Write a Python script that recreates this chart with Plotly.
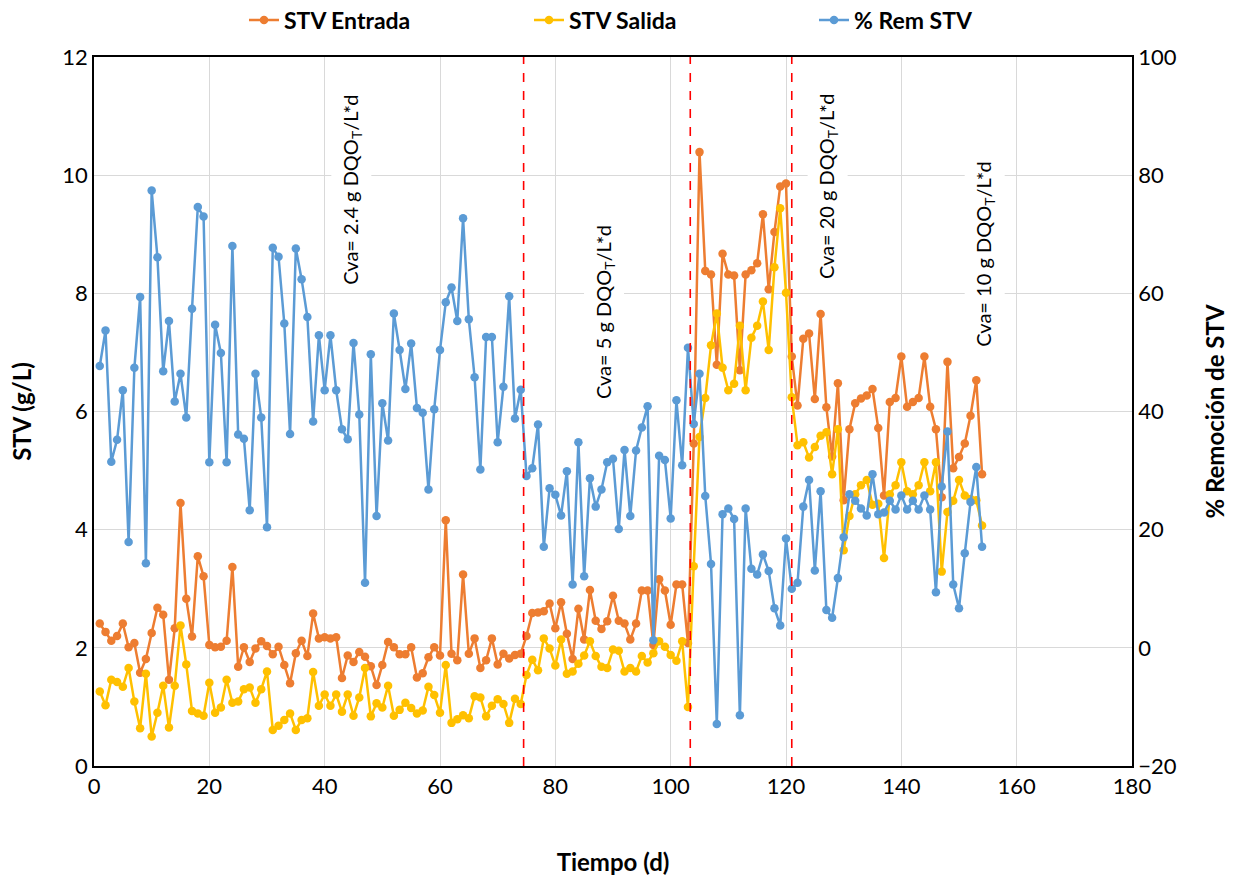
import plotly.graph_objects as go
from plotly.subplots import make_subplots

# Días de operación
dias = list(range(1, 155))

# Sólidos totales volátiles a la entrada (g/L)
stv_entrada = [
    2.41, 2.27, 2.12, 2.20, 2.41, 2.01, 2.08, 1.58, 1.81, 2.25,
    2.68, 2.56, 1.46, 2.33, 4.45, 2.83, 2.19, 3.55, 3.21, 2.05,
    2.01, 2.02, 2.12, 3.37, 1.68, 2.01, 1.76, 1.99, 2.11, 2.03,
    1.89, 2.02, 1.71, 1.40, 1.91, 2.12, 1.86, 2.58, 2.16, 2.18,
    2.16, 2.18, 1.49, 1.87, 1.76, 1.93, 1.85, 1.69, 1.37, 1.71,
    2.10, 2.01, 1.89, 1.89, 2.01, 1.50, 1.57, 1.84, 2.01, 1.87,
    4.16, 1.90, 1.79, 3.24, 1.90, 2.16, 1.66, 1.79, 2.16, 1.72,
    1.90, 1.82, 1.88, 1.90, 2.20, 2.59, 2.60, 2.62, 2.75, 2.33,
    2.77, 2.24, 1.81, 2.66, 2.14, 2.98, 2.46, 2.32, 2.45, 2.88,
    2.46, 2.41, 2.14, 2.41, 2.97, 2.97, 2.05, 3.16, 2.97, 2.39,
    3.07, 3.07, 2.08, 5.46, 10.39, 8.38, 8.32, 6.79, 8.67, 8.32,
    8.30, 6.70, 8.32, 8.39, 8.51, 9.34, 8.07, 9.04, 9.81, 9.86,
    6.93, 6.10, 7.23, 7.32, 6.21, 7.65, 6.07, 5.24, 6.48, 4.50,
    5.70, 6.14, 6.22, 6.27, 6.38, 5.72, 4.58, 6.16, 6.23, 6.93,
    6.08, 6.16, 6.23, 6.93, 6.08, 5.70, 4.55, 6.84, 5.04, 5.23,
    5.46, 5.93, 6.53, 4.94,
]

# Sólidos totales volátiles a la salida (g/L)
stv_salida = [
    1.26, 1.03, 1.46, 1.42, 1.34, 1.66, 1.09, 0.64, 1.56, 0.50,
    0.90, 1.36, 0.65, 1.36, 2.38, 1.72, 0.93, 0.89, 0.85, 1.41,
    0.90, 0.99, 1.46, 1.07, 1.09, 1.30, 1.33, 1.07, 1.30, 1.60,
    0.61, 0.68, 0.78, 0.89, 0.61, 0.78, 0.81, 1.59, 1.02, 1.21,
    1.02, 1.21, 0.92, 1.21, 0.85, 1.16, 1.66, 0.84, 1.06, 0.99,
    1.36, 0.85, 0.95, 1.07, 0.98, 0.89, 0.94, 1.34, 1.20, 0.90,
    1.71, 0.73, 0.79, 0.86, 0.81, 1.18, 1.16, 0.84, 1.02, 1.13,
    1.05, 0.73, 1.14, 1.05, 1.54, 1.80, 1.62, 2.16, 1.99, 1.70,
    2.14, 1.56, 1.60, 1.73, 1.87, 2.11, 1.86, 1.68, 1.66, 1.97,
    1.95, 1.60, 1.66, 1.60, 1.86, 1.75, 1.91, 2.11, 2.02, 1.88,
    1.78, 2.11, 1.00, 3.38, 5.57, 6.23, 7.12, 7.66, 6.74, 6.36,
    6.47, 7.45, 6.36, 7.25, 7.45, 7.86, 7.04, 8.44, 9.44, 8.01,
    6.24, 5.43, 5.48, 5.22, 5.40, 5.59, 5.65, 4.94, 5.70, 3.65,
    4.23, 4.60, 4.75, 4.84, 4.42, 4.44, 3.52, 4.60, 4.75, 5.14,
    4.65, 4.60, 4.75, 5.14, 4.65, 5.14, 3.29, 4.30, 4.49, 4.84,
    4.58, 4.52, 4.50, 4.07,
]

# Porcentaje de remoción de STV (%)
rem_stv = [
    47.7, 53.7, 31.5, 35.2, 43.6, 17.9, 47.4, 59.4, 14.3, 77.4,
    66.1, 46.8, 55.3, 41.7, 46.4, 39.0, 57.4, 74.6, 73.0, 31.4,
    54.7, 49.9, 31.4, 68.0, 36.1, 35.4, 23.3, 46.4, 39.0, 20.4,
    67.7, 66.2, 54.9, 36.2, 67.6, 62.4, 56.0, 38.3, 52.9, 43.6,
    52.9, 43.6, 37.0, 35.3, 51.6, 39.5, 11.0, 49.7, 22.3, 41.4,
    35.1, 56.6, 50.4, 43.8, 51.5, 40.6, 39.8, 26.8, 40.4, 50.4,
    58.5, 61.0, 55.3, 72.7, 55.6, 45.8, 30.2, 52.6, 52.6, 34.8,
    44.2, 59.5, 38.8, 43.7, 29.1, 30.4, 37.8, 17.1, 27.0, 25.9,
    22.4, 29.9, 10.7, 34.8, 12.1, 28.7, 23.9, 26.8, 31.4, 32.0,
    20.1, 33.5, 22.3, 33.4, 37.3, 40.9, 1.3, 32.5, 31.8, 21.9,
    41.9, 30.9, 50.8, 37.9, 46.4, 25.7, 14.2, -12.9, 22.6, 23.6,
    21.8, -11.4, 23.6, 13.4, 12.4, 15.8, 13.0, 6.7, 3.8, 18.5,
    10.0, 11.0, 23.9, 28.4, 13.1, 26.5, 6.4, 5.1, 11.8, 18.7,
    26.0, 24.9, 23.6, 22.4, 29.4, 22.6, 22.9, 24.9, 23.4, 25.8,
    23.4, 24.9, 23.4, 25.8, 23.4, 9.4, 27.3, 36.6, 10.7, 6.7,
    16.0, 24.7, 30.6, 17.1,
]

# Cambios de carga volumétrica aplicada (día)
cambios_carga = [74.5, 103.4, 121.0]

# Etiquetas de cada etapa: (día, STV, texto)
etapas_x = [44.7, 88.4, 127.3, 154.5]
etapas_y = [9.75, 7.68, 9.8, 8.67]
etapas_txt = [
    "Cva= 2.4 g DQO<sub>T</sub>/L*d",
    "Cva= 5 g DQO<sub>T</sub>/L*d",
    "Cva= 20 g DQO<sub>T</sub>/L*d",
    "Cva= 10 g DQO<sub>T</sub>/L*d",
]

FONT = "Lato, 'Open Sans', sans-serif"
NARANJA = "#ED7D31"
AMARILLO = "#FFC000"
AZUL = "#5B9BD5"

fig = make_subplots(specs=[[{"secondary_y": True}]])

fig.add_trace(go.Scatter(
    x=dias, y=stv_entrada, name="STV Entrada", mode="lines+markers",
    line=dict(color=NARANJA, width=2.5),
    marker=dict(color=NARANJA, size=8.5, symbol="circle"),
), secondary_y=False)

fig.add_trace(go.Scatter(
    x=dias, y=stv_salida, name="STV Salida", mode="lines+markers",
    line=dict(color=AMARILLO, width=2.5),
    marker=dict(color=AMARILLO, size=8.5, symbol="circle"),
), secondary_y=False)

fig.add_trace(go.Scatter(
    x=dias, y=rem_stv, name="% Rem STV", mode="lines+markers",
    line=dict(color=AZUL, width=2.5),
    marker=dict(color=AZUL, size=8.5, symbol="circle"),
), secondary_y=True)

for xc in cambios_carga:
    fig.add_shape(type="line", xref="x", yref="paper",
                  x0=xc, x1=xc, y0=0, y1=1,
                  line=dict(color="#FF0000", width=1.6, dash="dash"),
                  layer="above")

for xa, ya, txt in zip(etapas_x, etapas_y, etapas_txt):
    fig.add_annotation(
        x=xa, y=ya, xref="x", yref="y", text=txt, textangle=-90,
        showarrow=False, bgcolor="white", borderpad=6,
        font=dict(family=FONT, size=20, color="black"),
    )

fig.update_xaxes(
    domain=[0, 1],
    range=[0, 180], dtick=20, tick0=0,
    showgrid=True, gridcolor="#D9D9D9", gridwidth=1,
    showline=True, linecolor="black", linewidth=1.5, mirror=True,
    ticks="", zeroline=False,
    tickfont=dict(family=FONT, size=22, color="black"),
    title=dict(text="<b>Tiempo (d)</b>", standoff=56,
               font=dict(family=FONT, size=24, color="black")),
)

fig.update_yaxes(
    range=[0, 12], dtick=2, tick0=0,
    showgrid=True, gridcolor="#D9D9D9", gridwidth=1,
    showline=True, linecolor="black", linewidth=1.5,
    ticks="", zeroline=False,
    tickfont=dict(family=FONT, size=22, color="black"),
    title=dict(text="<b>STV (g/L)</b>", standoff=24,
               font=dict(family=FONT, size=24, color="black")),
    secondary_y=False,
)

fig.update_yaxes(
    range=[-20, 100], dtick=20, tick0=-20,
    showgrid=False,
    showline=True, linecolor="black", linewidth=1.5,
    ticks="", zeroline=False,
    tickfont=dict(family=FONT, size=22, color="black"),
    title=dict(text="<b>% Remoción de STV</b>", standoff=32,
               font=dict(family=FONT, size=24, color="black")),
    secondary_y=True,
)

fig.update_layout(
    width=1233, height=878,
    margin=dict(l=94, r=101, t=57, b=112, autoexpand=False),
    paper_bgcolor="white", plot_bgcolor="white",
    font=dict(family=FONT, color="black"),
    showlegend=True,
    legend=dict(
        orientation="h", x=0.1445, xanchor="left", y=1.052, yanchor="middle",
        font=dict(family=FONT, size=23, color="black", weight="bold"),
        entrywidth=240, itemwidth=30, bgcolor="rgba(0,0,0,0)",
    ),
)

fig.write_html("out.html")
